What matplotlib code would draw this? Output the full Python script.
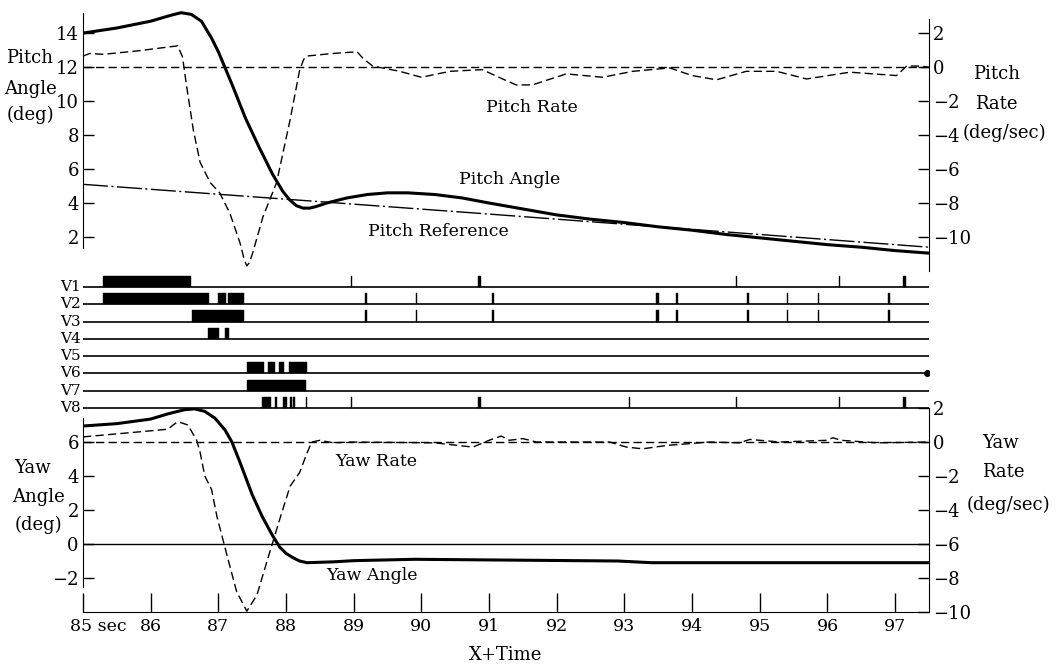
import matplotlib
matplotlib.use("Agg")
import matplotlib.pyplot as plt
import matplotlib.transforms as mtrans

# --- pitch channel (time in s after X) ---
pitch_t = [85.0, 85.5, 86.0, 86.3, 86.45, 86.6, 86.75, 86.9, 87.0, 87.2, 87.4, 87.6,
           87.8, 87.95, 88.05, 88.15, 88.25, 88.35, 88.45, 88.6, 88.9, 89.2, 89.5, 89.8,
           90.2, 90.6, 91.0, 91.5, 92.0, 92.5, 93.0, 93.5, 94.0, 94.5, 95.0, 95.5,
           96.0, 96.5, 97.0, 97.5]
pitch_angle = [14.0, 14.3, 14.7, 15.05, 15.2, 15.1, 14.7, 13.7, 12.9, 11.0, 9.0, 7.3,
               5.7, 4.7, 4.2, 3.85, 3.7, 3.7, 3.8, 4.0, 4.3, 4.5, 4.6, 4.6,
               4.5, 4.3, 4.0, 3.65, 3.3, 3.05, 2.85, 2.6, 2.4, 2.15, 1.95, 1.75,
               1.55, 1.4, 1.2, 1.05]

ref_t = [85.0, 91.0, 97.5]
pitch_ref = [5.1, 3.35, 1.4]

rate_t = [85.0, 85.1, 85.3, 85.8, 86.2, 86.4, 86.47, 86.53, 86.63, 86.73, 86.88, 87.02,
          87.17, 87.32, 87.38, 87.42, 87.46, 87.51, 87.66, 87.86, 88.06, 88.2, 88.26, 88.31,
          88.69, 89.05, 89.14, 89.28, 89.68, 90.0, 90.42, 90.9, 91.2, 91.4, 91.64,
          92.14, 92.68, 93.12, 93.67, 94.0, 94.36, 94.8, 95.25, 95.69, 96.33, 97.02,
          97.17, 97.36, 97.5]
pitch_rate = [0.65, 0.8, 0.75, 0.95, 1.15, 1.25, 0.6, -1.1, -3.7, -5.6, -6.8, -7.4,
              -8.6, -10.35, -11.3, -11.7, -11.5, -10.9, -8.8, -6.8, -3.1, -0.2, 0.45, 0.65,
              0.8, 0.9, 0.5, 0.06, -0.25, -0.6, -0.25, -0.15, -0.7, -1.05, -1.05,
              -0.4, -0.6, -0.25, -0.05, -0.5, -0.75, -0.25, -0.25, -0.7, -0.3, -0.5,
              0.06, 0.06, 0.0]

# --- yaw channel ---
yaw_t = [85.0, 85.5, 86.0, 86.25, 86.5, 86.65, 86.8, 86.95, 87.1, 87.2, 87.32, 87.5,
         87.65, 87.8, 87.91, 88.0, 88.1, 88.2, 88.31, 88.7, 89.0, 89.9, 91.4, 92.9,
         93.4, 97.5]
yaw_angle = [6.94, 7.08, 7.35, 7.65, 7.9, 7.95, 7.8, 7.4, 6.7, 6.0, 4.8, 2.9,
             1.6, 0.5, -0.2, -0.55, -0.8, -1.0, -1.1, -1.05, -0.98, -0.9, -0.95, -1.0,
             -1.1, -1.1]

yrate_t = [85.0, 85.7, 86.25, 86.4, 86.55, 86.68, 86.73, 86.8, 86.9, 86.98, 87.13, 87.27,
           87.42, 87.57, 87.72, 87.91, 88.06, 88.2, 88.31, 88.38, 88.5, 88.7, 88.95,
           90.2, 90.76, 91.0, 91.18, 91.3, 91.5, 91.7, 92.78, 93.03, 93.27, 93.63,
           94.26, 94.7, 94.85, 95.3, 95.99, 96.08, 96.2, 96.73, 97.5]
yaw_rate = [0.3, 0.55, 0.75, 1.2, 1.0, 0.1, -0.6, -2.0, -2.8, -4.4, -6.7, -8.8,
            -9.95, -9.0, -7.0, -4.5, -2.6, -1.8, -0.65, 0.0, 0.1, -0.05, 0.0,
            -0.05, -0.3, 0.1, 0.35, 0.1, 0.2, 0.0, 0.0, -0.3, -0.4, -0.2,
            0.0, -0.05, 0.15, 0.0, 0.1, 0.25, 0.1, -0.05, 0.0]

# --- valve on/off intervals (start, end) ---
valve_names = ["V1", "V2", "V3", "V4", "V5", "V6", "V7", "V8"]
valve_on = [
    [(85.30, 86.60), (88.96, 88.98), (90.83, 90.88), (94.65, 94.67), (96.17, 96.19), (97.11, 97.16)],
    [(85.30, 86.86), (86.99, 87.11), (87.14, 87.38), (89.16, 89.19), (89.92, 89.94), (91.04, 91.08),
     (93.46, 93.51), (93.76, 93.79), (94.81, 94.84), (95.40, 95.42), (95.86, 95.88), (96.90, 96.93)],
    [(86.61, 87.38), (89.16, 89.19), (89.92, 89.94), (91.04, 91.08), (93.46, 93.51), (93.76, 93.79),
     (94.81, 94.84), (95.40, 95.42), (95.86, 95.88), (96.90, 96.92)],
    [(86.85, 87.01), (87.10, 87.16)],
    [],
    [(87.42, 87.67), (87.73, 87.84), (87.90, 87.97), (88.04, 88.31)],
    [(87.42, 88.29)],
    [(87.64, 87.78), (87.84, 87.87), (87.95, 88.01), (88.06, 88.09), (88.10, 88.13), (88.29, 88.31),
     (88.96, 88.98), (90.83, 90.88), (93.06, 93.08), (94.65, 94.67), (96.17, 96.19), (97.11, 97.16)],
]

x_ticks = list(range(85, 98))
x_labels = ["85 sec"] + [str(v) for v in range(86, 98)]

W, H = 1064, 668
plt.rcParams["font.family"] = ["DejaVu Serif"]
plt.rcParams["axes.unicode_minus"] = True

fig = plt.figure(figsize=(W / 100, H / 100), dpi=100)


def px_rect(x0, y0, x1, y1):
    return [x0 / W, 1 - y1 / H, (x1 - x0) / W, (y1 - y0) / H]


def ftext(x, y, s, size=12, ha="center"):
    fig.text(x / W, 1 - y / H, s, ha=ha, va="center", fontsize=size)


def style_y(ax, side, ticks, length=8):
    ax.set_yticks(ticks)
    ax.tick_params(axis="y", direction="in", length=length, width=1.0,
                   labelsize=13, pad=3, left=(side == "left"), right=(side == "right"),
                   labelleft=(side == "left"), labelright=(side == "right"))


# ---------- top: pitch ----------
ax1 = fig.add_axes(px_rect(83, 11, 929, 271))
ax1.set_xlim(85, 97.5)
ax1.set_ylim(0, 15.3)
ax1.patch.set_alpha(0)
for s in ["top", "bottom", "right"]:
    ax1.spines[s].set_visible(False)
ax1.spines["left"].set_bounds(1.35, 15.2)
ax1.set_xticks([])
style_y(ax1, "left", range(2, 15, 2))

ax1r = ax1.twinx()
ax1r.set_ylim(-12, 3.3)
for s in ["top", "bottom", "left"]:
    ax1r.spines[s].set_visible(False)
ax1r.spines["right"].set_bounds(-12, 2.8)
style_y(ax1r, "right", range(-10, 3, 2))

ax1.plot(pitch_t, pitch_angle, color="black", lw=2.2)
ax1.plot(ref_t, pitch_ref, color="black", lw=1.0, dashes=(18, 2.5, 1.5, 2.5))
ax1r.axhline(0, color="black", lw=1.0, dashes=(6, 3))
ax1r.plot(rate_t, pitch_rate, color="black", lw=1.0, dashes=(6, 3))

# ---------- bottom: yaw ----------
ax2 = fig.add_axes(px_rect(83, 408, 929, 612))
ax2.set_xlim(85, 97.5)
ax2.set_ylim(-4, 8)
ax2.patch.set_alpha(0)
ax2.spines["top"].set_visible(False)
ax2.spines["right"].set_visible(False)
ax2.spines["left"].set_bounds(-2.5, 7.4)
ax2.set_xticks(x_ticks)
ax2.set_xticklabels(x_labels)
ax2.tick_params(axis="x", direction="in", length=14, width=1.0, labelsize=12.5, pad=4)
lab0 = ax2.get_xticklabels()[0]
lab0.set_ha("left")
lab0.set_transform(lab0.get_transform() + mtrans.ScaledTranslation(-9 / 72, 0, fig.dpi_scale_trans))
style_y(ax2, "left", range(-2, 7, 2))
ax2.set_xlabel("X+Time", fontsize=13, labelpad=8)

ax2r = ax2.twinx()
ax2r.set_ylim(-10, 2)
for s in ["top", "bottom", "left"]:
    ax2r.spines[s].set_visible(False)
style_y(ax2r, "right", range(-10, 3, 2))

ax2.axhline(0, color="black", lw=1.0)
ax2.plot(yaw_t, yaw_angle, color="black", lw=2.2)
ax2r.axhline(0, color="black", lw=1.0, dashes=(6, 3))
ax2r.plot(yrate_t, yaw_rate, color="black", lw=1.0, dashes=(6, 3))

# ---------- middle: valve traces ----------
axv = fig.add_axes(px_rect(83, 269.7, 929, 416.6))
axv.set_xlim(85, 97.5)
axv.set_ylim(8.5, 0)
axv.axis("off")
ytr = axv.get_yaxis_transform()
for k, (name, spans) in enumerate(zip(valve_names, valve_on), start=1):
    axv.plot([85, 97.5], [k, k], color="black", lw=1.2)
    if spans:
        axv.broken_barh([(a, b - a) for a, b in spans], (k - 0.64, 0.64),
                        facecolor="black", edgecolor="black", lw=0.3)
    axv.text(-0.003, k, name, transform=ytr, ha="right", va="center", fontsize=11)
axv.plot([97.47], [6], "o", color="black", ms=4)

# ---------- labels ----------
ftext(532, 107, "Pitch Rate", 12.5)
ftext(510, 180, "Pitch Angle", 12.5)
ftext(438, 231, "Pitch Reference", 12.5)
ftext(376, 462, "Yaw Rate", 12.5)
ftext(372, 576, "Yaw Angle", 12.5)

ftext(30, 58, "Pitch", 13)
ftext(30, 89, "Angle", 13)
ftext(30, 115, "(deg)", 13)
ftext(973, 74, "Pitch", 13, ha="left")
ftext(975, 104, "Rate", 13, ha="left")
ftext(963, 133, "(deg/sec)", 13, ha="left")

ftext(32, 468, "Yaw", 13)
ftext(38, 497, "Angle", 13)
ftext(38, 525, "(deg)", 13)
ftext(982, 443, "Yaw", 13, ha="left")
ftext(982, 472, "Rate", 13, ha="left")
ftext(967, 505, "(deg/sec)", 13, ha="left")

fig.savefig("out.png", dpi=100)
